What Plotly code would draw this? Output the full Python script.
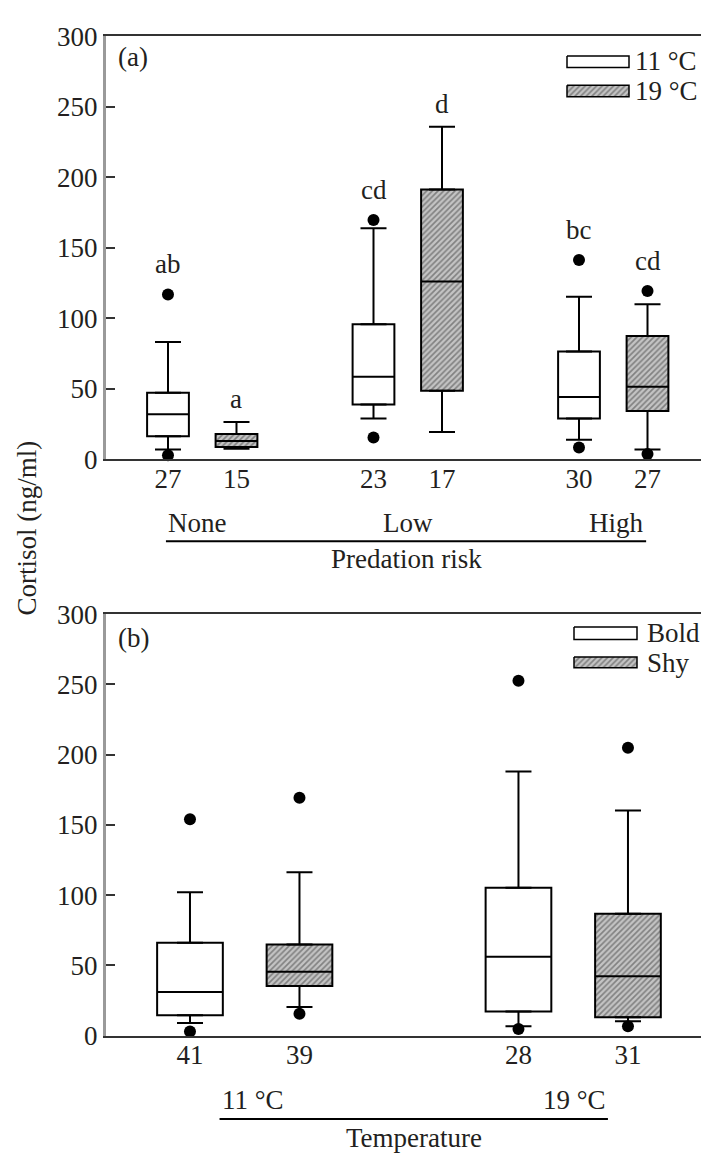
import plotly.graph_objects as go

FONT = "Liberation Serif"
TXT = "#231f20"
W, H = 701, 1169

# ---------------- Panel (a): predation risk x temperature ----------------
risk_levels = ["None", "Low", "High"]
temps_a = ["11 °C", "19 °C"]
n_a = [27, 15, 23, 17, 30, 27]
letters_a = ["ab", "a", "cd", "d", "bc", "cd"]
lo_a = [6.9, 7.5, 29.0, 19.4, 13.9, 6.9]
q1_a = [16.4, 8.8, 38.9, 48.6, 29.0, 34.3]
med_a = [31.9, 13.0, 58.6, 126.2, 44.2, 51.4]
q3_a = [47.2, 18.0, 95.8, 191.4, 76.4, 87.5]
hi_a = [83.3, 26.4, 163.9, 236.0, 115.3, 110.0]
out_a = [[2.8, 117.0], [], [15.5, 169.7], [], [8.3, 141.4], [3.7, 119.4]]

# ---------------- Panel (b): temperature x personality ----------------
temp_groups = ["11 °C", "19 °C"]
types_b = ["Bold", "Shy"]
n_b = [41, 39, 28, 31]
lo_b = [8.9, 20.3, 6.6, 10.3]
q1_b = [14.5, 35.3, 17.2, 13.1]
med_b = [31.1, 45.5, 56.1, 42.2]
q3_b = [66.1, 64.9, 105.2, 86.7]
hi_b = [102.0, 116.3, 188.0, 160.3]
out_b = [[2.9, 154.0], [15.6, 169.3], [4.7, 252.6], [6.6, 205.0]]

yticks = [0, 50, 100, 150, 200, 250, 300]


def py(px):
    return 1 - px / H


def positions(n_groups):
    return [3 * g + (s - 0.5) for g in range(n_groups) for s in range(2)]


HATCH = dict(shape="/", bgcolor="#c4c4c4", fgcolor="#3e3e3e", size=4, solidity=0.42)

fig = go.Figure()


def add_panel(xa, ya, pos, lo, q1, med, q3, hi, outs, bw, names):
    for s in range(2):
        idx = [i for i in range(len(pos)) if i % 2 == s]
        marker = dict(color="white", line=dict(color="black", width=2))
        if s == 1:
            marker = dict(color="#c4c4c4", pattern=HATCH, line=dict(color="black", width=2))
        fig.add_trace(go.Bar(
            x=[pos[i] for i in idx], base=[q1[i] for i in idx],
            y=[q3[i] - q1[i] for i in idx], width=bw, marker=marker,
            name=names[s], xaxis=xa, yaxis=ya, showlegend=False))
    inv = dict(color="rgba(0,0,0,0)", size=1)
    # medians
    fig.add_trace(go.Scatter(
        x=pos, y=med, mode="markers", marker=inv, xaxis=xa, yaxis=ya,
        error_x=dict(type="constant", value=bw / 2, width=0, thickness=2, color="black"),
        showlegend=False, hoverinfo="skip"))
    # upper whiskers
    fig.add_trace(go.Scatter(
        x=pos, y=q3, mode="markers", marker=inv, xaxis=xa, yaxis=ya,
        error_y=dict(type="data", symmetric=False, array=[h - q for h, q in zip(hi, q3)],
                     arrayminus=[0] * len(pos), width=13, thickness=2, color="black"),
        showlegend=False, hoverinfo="skip"))
    # lower whiskers
    fig.add_trace(go.Scatter(
        x=pos, y=q1, mode="markers", marker=inv, xaxis=xa, yaxis=ya,
        error_y=dict(type="data", symmetric=False, array=[0] * len(pos),
                     arrayminus=[q - l for q, l in zip(q1, lo)], width=13, thickness=2,
                     color="black"),
        showlegend=False, hoverinfo="skip"))
    # outliers
    ox, oy = [], []
    for p, o in zip(pos, outs):
        for v in o:
            ox.append(p)
            oy.append(v)
    fig.add_trace(go.Scatter(
        x=ox, y=oy, mode="markers", marker=dict(color="black", size=12),
        cliponaxis=False, xaxis=xa, yaxis=ya, showlegend=False))


pos_a = positions(len(risk_levels))
pos_b = positions(len(temp_groups))
add_panel("x", "y", pos_a, lo_a, q1_a, med_a, q3_a, hi_a, out_a, 0.61, temps_a)
add_panel("x2", "y2", pos_b, lo_b, q1_b, med_b, q3_b, hi_b, out_b, 0.60, types_b)

annotations = []
tf = dict(family=FONT, size=27, color=TXT)

# significance letters
for p, h, o, t in zip(pos_a, hi_a, out_a, letters_a):
    top = max([h] + o)
    annotations.append(dict(x=p, y=top, xref="x", yref="y", text=t, showarrow=False,
                            yanchor="bottom", yshift=13 if o and max(o) > h else 6, font=tf))

# group labels, panel (a)
la0, la1 = -0.53, 6.48
annotations += [
    dict(x=la0, y=py(521), xref="x", yref="paper", text=risk_levels[0], xanchor="left",
         yanchor="middle", showarrow=False, font=tf),
    dict(x=3, y=py(521), xref="x", yref="paper", text=risk_levels[1], xanchor="center",
         yanchor="middle", showarrow=False, font=tf),
    dict(x=la1, y=py(521), xref="x", yref="paper", text=risk_levels[2], xanchor="right",
         yanchor="middle", showarrow=False, font=tf),
    dict(x=(la0 + la1) / 2, y=py(558), xref="x", yref="paper", text="Predation risk",
         xanchor="center", yanchor="middle", showarrow=False, font=tf),
]
# group labels, panel (b)
lb0, lb1 = -0.23, 3.317
annotations += [
    dict(x=lb0, y=py(1114), xref="x2", yref="paper", text=temp_groups[0], xanchor="left",
         yanchor="middle", showarrow=False, font=tf),
    dict(x=lb1, y=py(1114), xref="x2", yref="paper", text=temp_groups[1], xanchor="right",
         yanchor="middle", showarrow=False, font=tf),
    dict(x=(lb0 + lb1) / 2, y=py(1153), xref="x2", yref="paper", text="Temperature",
         xanchor="center", yanchor="middle", showarrow=False, font=tf),
]
# panel labels
annotations += [
    dict(x=116 / W, y=py(43), xref="paper", yref="paper", text="(a)", xanchor="left",
         yanchor="middle", showarrow=False, font=tf),
    dict(x=116 / W, y=py(639), xref="paper", yref="paper", text="(b)", xanchor="left",
         yanchor="middle", showarrow=False, font=tf),
    dict(x=27 / W, y=py(527), xref="paper", yref="paper", text="Cortisol (ng/ml)",
         textangle=-90, xanchor="center", yanchor="middle", showarrow=False, font=tf),
]

# legends (drawn in a pixel-space overlay)
def swatch(x0, x1, y0, y1, hatched):
    kw = dict(fill="toself", mode="lines", line=dict(color="black", width=1.5),
              xaxis="x3", yaxis="y3", showlegend=False, hoverinfo="skip")
    if hatched:
        kw["fillpattern"] = HATCH
        kw["fillcolor"] = "#c4c4c4"
    else:
        kw["fillcolor"] = "white"
    fig.add_trace(go.Scatter(x=[x0, x1, x1, x0, x0], y=[y0, y0, y1, y1, y0], **kw))


swatch(567, 629, 42, 54, False)
swatch(567, 629, 72, 84, True)
swatch(574, 637, 628, 641, False)
swatch(574, 637, 659, 670, True)
lf = dict(family=FONT, size=27, color=TXT)
for txt, yy, xx in [(temps_a[0], 47.5, 633), (temps_a[1], 78, 633),
                    (types_b[0], 634.5, 645), (types_b[1], 665, 645)]:
    annotations.append(dict(x=xx / W, y=py(yy), xref="paper", yref="paper", text=txt,
                            xanchor="left", yanchor="middle", showarrow=False, font=lf))

xcommon = dict(showline=True, mirror=True, linecolor="#333", linewidth=2, ticks="",
               ticklabelstandoff=-6,
               showgrid=False, zeroline=False, tickfont=dict(family=FONT, size=27, color=TXT))
ycommon = dict(range=[0, 300], tickvals=yticks, ticks="inside", ticklen=9, tickwidth=2,
               tickcolor="#333", showline=True, linecolor="#9a9a9a", linewidth=3,
               showgrid=False, zeroline=False, tickfont=dict(family=FONT, size=27, color=TXT))

fig.update_layout(
    width=W, height=H, autosize=False,
    margin=dict(l=0, r=0, t=0, b=0, pad=0),
    paper_bgcolor="white", plot_bgcolor="rgba(0,0,0,0)",
    barmode="overlay", showlegend=False,
    xaxis=dict(domain=[106 / W, 1], range=[-1.405, 7.281], anchor="y",
               tickvals=pos_a, ticktext=[str(v) for v in n_a], **xcommon),
    yaxis=dict(domain=[py(456), py(22)], anchor="x", **ycommon),
    xaxis2=dict(domain=[106 / W, 1], range=[-1.267, 4.167], anchor="y2",
                tickvals=pos_b, ticktext=[str(v) for v in n_b], **xcommon),
    yaxis2=dict(domain=[py(1047.5), py(615)], anchor="x2", **ycommon),
    xaxis3=dict(domain=[0, 1], range=[0, W], visible=False, fixedrange=True, anchor="y3"),
    yaxis3=dict(domain=[0, 1], range=[H, 0], visible=False, fixedrange=True, anchor="x3"),
    annotations=annotations,
    shapes=[
        dict(type="line", xref="x", yref="paper", x0=la0, x1=la1, y0=py(540), y1=py(540),
             line=dict(color="black", width=2)),
        dict(type="line", xref="x2", yref="paper", x0=lb0, x1=lb1, y0=py(1133), y1=py(1133),
             line=dict(color="black", width=2)),
    ],
)

fig.write_html("out.html")
